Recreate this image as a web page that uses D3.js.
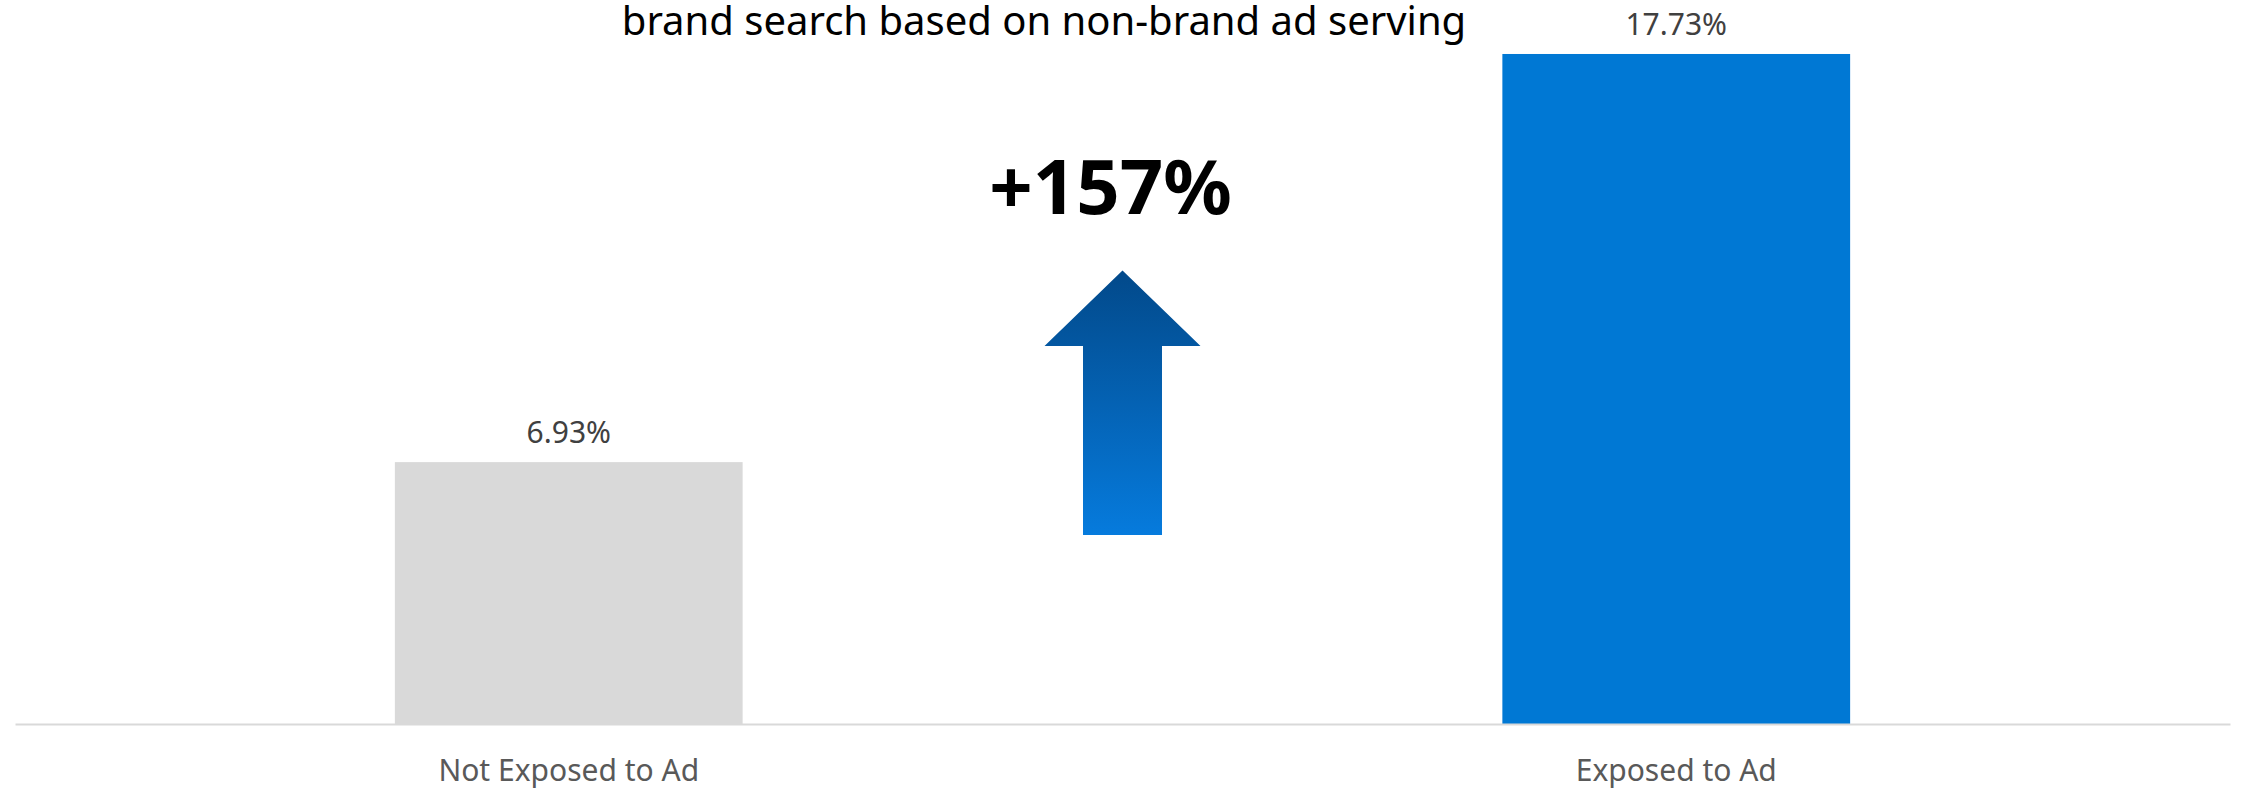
<!DOCTYPE html>
<html>
<head>
<meta charset="utf-8">
<script src="https://cdn.jsdelivr.net/npm/d3@7"></script>
<style>
  html, body { margin: 0; padding: 0; background: #ffffff; }
  svg { display: block; }
  text { font-family: "Segoe UI", "Noto Sans", "Open Sans", sans-serif; }
</style>
</head>
<body>
<svg id="chart" width="2242" height="791"></svg>
<script>
// Chart data
const categories = ["Not Exposed to Ad", "Exposed to Ad"];
const values = [6.93, 17.73];
const valueLabels = ["6.93%", "17.73%"];
const barColors = ["#d9d9d9", "#0078d4"];
const titleLine = "brand search based on non-brand ad serving";
const liftLabel = "+157%";

const W = 2242, H = 791;
const svg = d3.select("#chart");

const x = d3.scaleBand()
  .domain(categories)
  .range([15, 2230])
  .paddingInner(0.686)
  .paddingOuter(0.343);

const y = d3.scaleLinear()
  .domain([0, 19])
  .range([724, 724 - 19 * 37.79]);

// Title (continuation line of the chart heading)
svg.append("text")
  .attr("x", 1044)
  .attr("y", 35)
  .attr("text-anchor", "middle")
  .attr("font-size", 40)
  .attr("fill", "#000000")
  .text(titleLine);

// Bars
svg.selectAll("rect.bar")
  .data(values)
  .join("rect")
  .attr("class", "bar")
  .attr("x", (d, i) => x(categories[i]))
  .attr("width", x.bandwidth())
  .attr("y", d => y(d))
  .attr("height", d => y(0) - y(d))
  .attr("fill", (d, i) => barColors[i]);

// Value labels
svg.selectAll("text.val")
  .data(values)
  .join("text")
  .attr("class", "val")
  .attr("x", (d, i) => x(categories[i]) + x.bandwidth() / 2)
  .attr("y", d => y(d) - 19)
  .attr("text-anchor", "middle")
  .attr("font-size", 30)
  .attr("fill", "#404040")
  .text((d, i) => valueLabels[i]);

// Category axis
const axis = svg.append("g")
  .attr("transform", `translate(0,${y(0)})`)
  .call(d3.axisBottom(x).tickSize(0).tickPadding(36));
axis.select(".domain").attr("stroke", "#d9d9d9").attr("stroke-width", 2);
axis.selectAll(".tick text")
  .attr("font-size", 30)
  .attr("fill", "#595959")
  .style("font-family", "'Segoe UI', 'Noto Sans', 'Open Sans', sans-serif");

// Lift arrow between the bars
const defs = svg.append("defs");
const grad = defs.append("linearGradient")
  .attr("id", "arrowGrad")
  .attr("x1", 0).attr("y1", 0).attr("x2", 0).attr("y2", 1);
grad.append("stop").attr("offset", "0%").attr("stop-color", "#02498a");
grad.append("stop").attr("offset", "100%").attr("stop-color", "#067bdd");

const cx = (x(categories[0]) + x(categories[1]) + x.bandwidth()) / 2;
const headHalf = 78, shaftHalf = 39.5;
const tipY = y(12), baseY = y(10), bottomY = y(5);
const arrowPts = [
  [cx, tipY],
  [cx + headHalf, baseY],
  [cx + shaftHalf, baseY],
  [cx + shaftHalf, bottomY],
  [cx - shaftHalf, bottomY],
  [cx - shaftHalf, baseY],
  [cx - headHalf, baseY]
];
svg.append("path")
  .attr("d", d3.line()(arrowPts) + "Z")
  .attr("fill", "url(#arrowGrad)");

svg.append("text")
  .attr("x", cx - 12)
  .attr("y", y(13.5))
  .attr("text-anchor", "middle")
  .attr("font-size", 76)
  .attr("font-weight", 700)
  .attr("fill", "#000000")
  .text(liftLabel);
</script>
</body>
</html>
